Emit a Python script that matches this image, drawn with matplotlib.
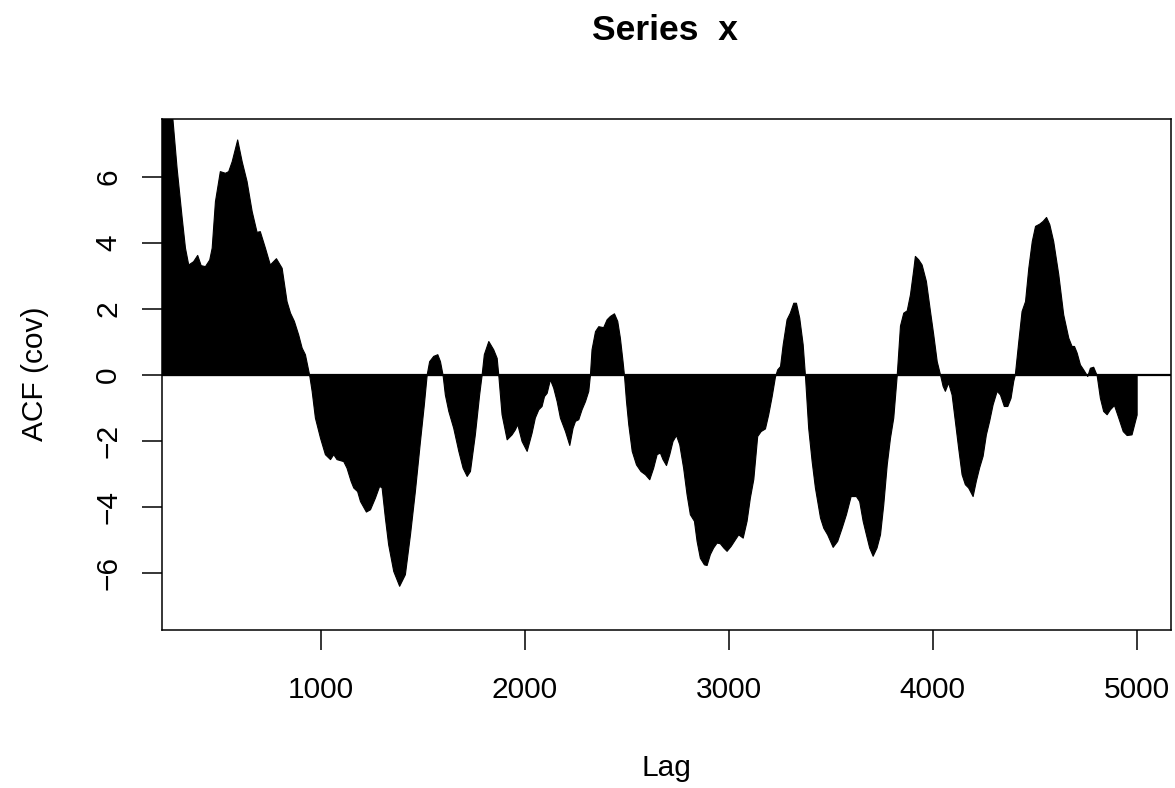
import matplotlib
matplotlib.use('Agg')
import matplotlib.pyplot as plt

plt.rcParams['font.family'] = ['Liberation Sans', 'DejaVu Sans']

# envelope of the sample autocovariance
lags = [220, 250, 274, 294, 319, 335, 351, 375, 395, 412, 433, 454, 466, 482, 506, 531, 547, 564, 591, 613,
        637, 662, 686, 702, 727, 751, 781, 809, 833, 850, 869, 890, 907, 923, 944, 956, 972, 997, 1021, 1046,
        1062, 1078, 1111, 1127, 1147, 1160, 1179, 1193, 1222, 1242, 1266, 1287, 1299, 1315, 1331, 1356, 1385,
        1413, 1438, 1462, 1487, 1506, 1520, 1532, 1552, 1572, 1585, 1598, 1609, 1626, 1650, 1675, 1696, 1716,
        1732, 1756, 1777, 1789, 1800, 1822, 1846, 1863, 1871, 1887, 1912, 1936, 1952, 1964, 1985, 2010, 2034,
        2050, 2067, 2083, 2095, 2108, 2124, 2140, 2157, 2173, 2198, 2219, 2235, 2247, 2263, 2279, 2296, 2312,
        2320, 2328, 2345, 2361, 2385, 2402, 2418, 2438, 2454, 2467, 2480, 2487, 2497, 2508, 2525, 2546, 2568,
        2590, 2611, 2630, 2647, 2663, 2676, 2693, 2709, 2725, 2742, 2758, 2777, 2794, 2810, 2830, 2843, 2859,
        2879, 2892, 2908, 2924, 2941, 2957, 2974, 2990, 3010, 3031, 3047, 3069, 3088, 3104, 3121, 3140, 3157,
        3178, 3194, 3211, 3227, 3238, 3252, 3265, 3284, 3300, 3317, 3330, 3346, 3363, 3374, 3390, 3407, 3423,
        3448, 3464, 3483, 3510, 3532, 3554, 3575, 3598, 3624, 3640, 3657, 3673, 3689, 3706, 3725, 3742, 3758,
        3775, 3791, 3807, 3824, 3840, 3856, 3873, 3889, 3905, 3913, 3929, 3946, 3967, 3987, 4003, 4020, 4036,
        4049, 4060, 4076, 4093, 4109, 4125, 4142, 4158, 4174, 4196, 4212, 4228, 4245, 4261, 4277, 4294, 4314,
        4330, 4349, 4366, 4382, 4395, 4403, 4420, 4436, 4453, 4469, 4486, 4502, 4523, 4539, 4556, 4572, 4591,
        4616, 4640, 4665, 4681, 4693, 4706, 4722, 4738, 4758, 4771, 4787, 4804, 4820, 4836, 4853, 4869, 4889,
        4910, 4932, 4951, 4975, 4992, 5000]
acf_cov = [10.5, 9.0, 7.73, 6.28, 4.77, 3.86, 3.35, 3.45, 3.64, 3.33, 3.30, 3.50, 3.86, 5.27, 6.18, 6.13, 6.18,
           6.48, 7.14, 6.48, 5.88, 4.97, 4.34, 4.36, 3.86, 3.35, 3.54, 3.25, 2.24, 1.89, 1.64, 1.23, 0.83, 0.63,
           0.0, -0.48, -1.29, -1.90, -2.40, -2.55, -2.40, -2.55, -2.61, -2.81, -3.21, -3.41, -3.52, -3.82,
           -4.14, -4.07, -3.72, -3.36, -3.41, -4.32, -5.13, -5.94, -6.39, -6.04, -4.83, -3.52, -2.0, -0.89,
           0.02, 0.42, 0.58, 0.63, 0.42, 0.0, -0.59, -1.09, -1.60, -2.30, -2.81, -3.06, -2.91, -1.80, -0.59,
           0.0, 0.63, 1.03, 0.78, 0.52, 0.0, -1.19, -1.95, -1.80, -1.65, -1.49, -2.0, -2.30, -1.75, -1.29,
           -1.04, -0.94, -0.64, -0.54, -0.13, -0.38, -0.79, -1.29, -1.70, -2.12, -1.60, -1.39, -1.34, -1.04,
           -0.79, -0.48, 0.0, 0.78, 1.33, 1.48, 1.45, 1.69, 1.79, 1.87, 1.64, 1.13, 0.42, 0.0, -0.79, -1.49,
           -2.30, -2.71, -2.91, -3.01, -3.16, -2.81, -2.40, -2.35, -2.55, -2.73, -2.40, -2.0, -1.82, -2.10,
           -2.81, -3.62, -4.22, -4.42, -5.03, -5.54, -5.74, -5.76, -5.43, -5.23, -5.08, -5.10, -5.23, -5.33,
           -5.18, -4.98, -4.83, -4.93, -4.42, -3.72, -3.15, -1.85, -1.70, -1.62, -1.19, -0.64, -0.05, 0.17,
           0.27, 0.93, 1.69, 1.89, 2.19, 2.19, 1.74, 0.93, 0.0, -1.60, -2.61, -3.41, -4.32, -4.63, -4.83,
           -5.21, -5.03, -4.63, -4.22, -3.67, -3.67, -3.82, -4.42, -4.83, -5.23, -5.48, -5.23, -4.83, -3.92,
           -2.71, -1.90, -1.29, 0.0, 1.5, 1.89, 1.96, 2.45, 3.2, 3.61, 3.51, 3.35, 2.85, 1.94, 1.23, 0.42,
           0.02, -0.33, -0.48, -0.23, -0.59, -1.39, -2.20, -3.01, -3.31, -3.41, -3.67, -3.20, -2.80, -2.45,
           -1.80, -1.39, -0.89, -0.48, -0.59, -0.94, -0.94, -0.69, -0.18, 0.02, 1.03, 1.94, 2.24, 3.25, 4.06,
           4.52, 4.59, 4.67, 4.79, 4.57, 4.06, 3.05, 1.84, 1.13, 0.88, 0.88, 0.68, 0.32, 0.17, -0.03, 0.22,
           0.25, 0.0, -0.69, -1.09, -1.19, -1.04, -0.91, -1.29, -1.70, -1.82, -1.80, -1.39, -1.2]

x_ticks = [1000, 2000, 3000, 4000, 5000]
y_ticks = [-6, -4, -2, 0, 2, 4, 6]

W, H = 1175, 788
fig = plt.figure(figsize=(W / 100, H / 100), dpi=100)
ax = fig.add_axes([161.7 / W, 1 - 630 / H, (1170.7 - 161.7) / W, (630 - 119) / H])

ax.fill_between(lags, 0, acf_cov, color='black', linewidth=0.8, edgecolor='black')
ax.axhline(0, color='black', linewidth=1.6)

ax.set_xlim(221, 5167)
ax.set_ylim(-7.73, 7.76)
ax.set_xticks(x_ticks)
ax.set_xticklabels([str(t) for t in x_ticks])
ax.set_yticks(y_ticks)
ax.set_yticklabels([str(t).replace('-', '\u2212') for t in y_ticks], rotation=90, va='center')

for s in ax.spines.values():
    s.set_linewidth(1.1)
ax.tick_params(axis='both', length=14.4, width=1.1, labelsize=21.5)
ax.tick_params(axis='x', pad=19)
ax.tick_params(axis='y', pad=14)

fig.text(665 / W, 1 - 30 / H, 'Series  x', ha='center', va='center',
         fontsize=25.5, fontweight='bold')
fig.text(666 / W, 1 - 776 / H, 'Lag', ha='center', va='baseline', fontsize=21.5)
fig.text(35 / W, 1 - 374 / H, 'ACF (cov)', ha='center', va='center',
         rotation=90, fontsize=21.5)

fig.savefig('out.png', dpi=100)
